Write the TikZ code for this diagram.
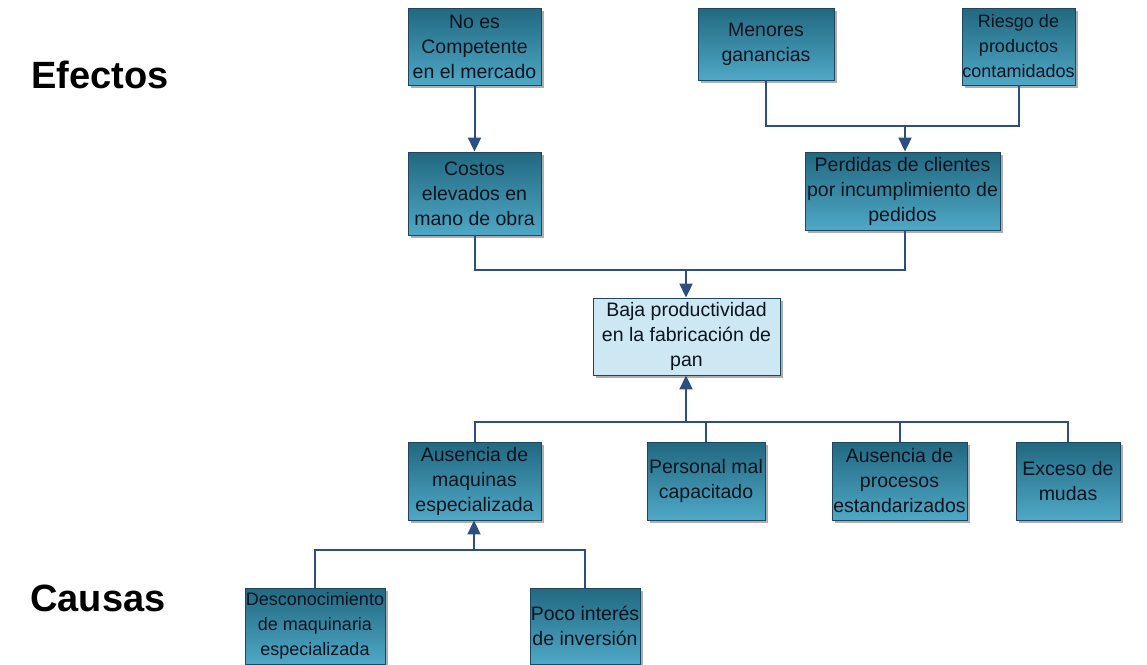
\documentclass[tikz,border=0pt]{standalone}
\usepackage{fontspec}
\setmainfont{Liberation Sans}
\newfontfamily\boxfont{Liberation Sans}
\usetikzlibrary{arrows.meta,shadows}
\definecolor{linec}{RGB}{44,78,130}
\definecolor{boxtop}{RGB}{34,104,128}
\definecolor{boxbot}{RGB}{78,168,198}
\definecolor{boxdraw}{RGB}{30,70,95}
\definecolor{lightfill}{RGB}{205,232,242}
\definecolor{txt}{RGB}{10,20,30}
\tikzset{
  x=1pt,y=-1pt,
  tbox/.style={draw=boxdraw, line width=0.9pt, top color=boxtop, bottom color=boxbot,
    drop shadow={shadow xshift=3pt, shadow yshift=-3pt, fill=black!45, opacity=0.7},
    align=center, inner sep=0pt, text=txt, font=\boxfont\fontsize{19.5}{25}\selectfont},
  nbox/.style={tbox, font=\boxfont\fontsize{18}{25}\selectfont},
  lbox/.style={tbox, top color=lightfill, bottom color=lightfill, fill=lightfill},
  conn/.style={draw=linec, line width=2pt},
  arr/.style={conn, -{Triangle[length=14pt,width=13pt]}},
  big/.style={font=\fontsize{38}{44}\bfseries\selectfont, text=black}
}
\begin{document}
\begin{tikzpicture}
\useasboundingbox (0,0) rectangle (1147,664);
\node[big] (ef) at (100,75) {Efectos};
\node[big] (ca) at (98,598) {Causas};

\node[tbox, minimum width=133pt, minimum height=77pt] (ne) at (474.5,46.5) {No es\\Competente\\en el mercado};
\node[tbox, minimum width=136pt, minimum height=72pt] (mg) at (766,44) {Menores\\ganancias};
\node[nbox, minimum width=113pt, minimum height=77pt] (rp) at (1018.5,46.5) {Riesgo de\\productos\\contamidados};
\node[tbox, minimum width=133pt, minimum height=83pt] (ce) at (474.5,193.5) {Costos\\elevados en\\mano de obra};
\node[tbox, minimum width=195pt, minimum height=78pt] (pc) at (902.5,191) {Perdidas de clientes\\por incumplimiento de\\pedidos};
\node[lbox, minimum width=187pt, minimum height=77pt] (bp) at (686.5,336.5) {Baja productividad\\en la fabricación de\\pan};
\node[tbox, minimum width=133pt, minimum height=78pt] (am) at (474.5,481) {Ausencia de\\maquinas\\especializada};
\node[tbox, minimum width=118pt, minimum height=78pt] (pm) at (706,481) {Personal mal\\capacitado};
\node[tbox, minimum width=135pt, minimum height=78pt] (ap) at (899.5,481) {Ausencia de\\procesos\\estandarizados};
\node[tbox, minimum width=104pt, minimum height=78pt] (em) at (1068,481) {Exceso de\\mudas};
\node[nbox, minimum width=140pt, minimum height=76pt] (dm) at (315,626) {Desconocimiento\\de maquinaria\\especializada};
\node[tbox, minimum width=110pt, minimum height=76pt] (pi) at (585,626) {Poco interés\\de inversión};

\coordinate (j1) at (905,126);
\coordinate (j2) at (686,270);
\coordinate (j3) at (686,422);
\coordinate (j4) at (474,550);

% effects
\draw[arr] (ne.south) -- (ce.north);
\draw[conn] (mg.south) |- (j1) -| (rp.south);
\draw[arr] (j1) -- (pc.north -| j1);
\draw[conn] (ce.south) |- (j2) -| (pc.south -| j1);
\draw[arr] (j2) -- (bp.north -| j2);
% causes
\draw[conn] (am.north) |- (j3) -| (em.north);
\draw[conn] (pm.north) -- (pm.north |- j3);
\draw[conn] (ap.north) -- (ap.north |- j3);
\draw[arr] (j3) -- (bp.south -| j3);
\draw[conn] (dm.north) |- (j4) -| (pi.north);
\draw[arr] (j4) -- (am.south -| j4);
\end{tikzpicture}
\end{document}
